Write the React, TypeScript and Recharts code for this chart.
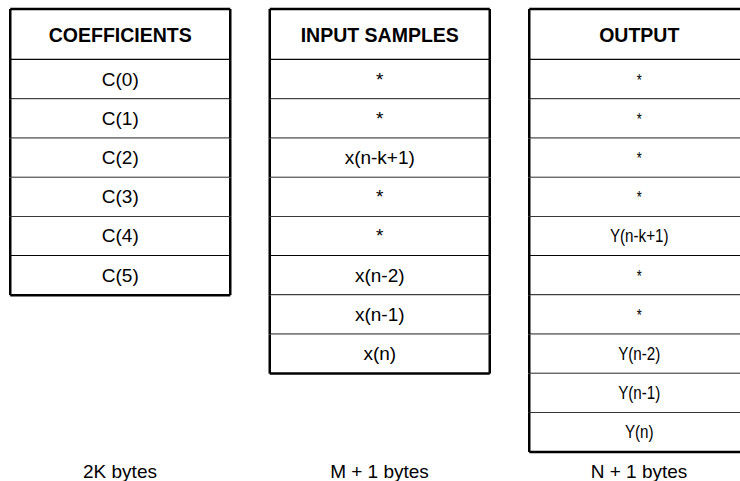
import React from "react";
import { BarChart, Bar, XAxis, YAxis } from "recharts";

// column titles and the size note under each table
const columns = ["COEFFICIENTS", "INPUT SAMPLES", "OUTPUT"];
const sizeLabels = ["2K bytes", "M + 1 bytes", "N + 1 bytes"];

// cell contents, top to bottom
const coefficients = ["C(0)", "C(1)", "C(2)", "C(3)", "C(4)", "C(5)"];
const inputSamples = ["*", "*", "x(n-k+1)", "*", "*", "x(n-2)", "x(n-1)", "x(n)"];
const outputs = ["*", "*", "*", "*", "Y(n-k+1)", "*", "*", "Y(n-2)", "Y(n-1)", "Y(n)"];

const tables = [coefficients, inputSamples, outputs];
const HEADER = 1.3; // header row height, in rows
const MAX_ROWS = 10;
const rowKeys = Array.from({ length: MAX_ROWS }, (_, k) => `r${k}`);

const data = columns.map((title, i) => {
  const row: any = { pos: i, title, size: sizeLabels[i], cells: tables[i], header: HEADER };
  rowKeys.forEach((key, k) => {
    row[key] = k < tables[i].length ? 1 : 0;
  });
  return row;
});

const FONT = "'Liberation Sans', Arial, Helvetica, sans-serif";
const OUTER = 2.5;
const INNER = 1.8;

// reversed y axis hands us negative heights, so normalise first
const box = (props: any) => {
  const h = Math.abs(props.height || 0);
  const top = Math.min(props.y, props.y + (props.height || 0));
  return { x: props.x, y: top, w: props.width, h };
};

const headerShape = (props: any) => {
  const { x, y, w, h } = box(props);
  const payload = props.payload;
  if (h < 0.5 || !payload) return <g />;
  return (
    <g>
      <rect x={x} y={y} width={w} height={h} fill="#fff" />
      <line x1={x} x2={x + w} y1={y} y2={y} stroke="#000" strokeWidth={OUTER} />
      <line x1={x} x2={x + w} y1={y + h} y2={y + h} stroke="#000" strokeWidth={OUTER} />
      <line x1={x} x2={x} y1={y} y2={y + h} stroke="#000" strokeWidth={OUTER} />
      <line x1={x + w} x2={x + w} y1={y} y2={y + h} stroke="#000" strokeWidth={OUTER} />
      <text
        x={x + w / 2}
        y={y + h / 2 + 8}
        textAnchor="middle"
        fontFamily={FONT}
        fontWeight="bold"
        fontSize={19.5}
        fill="#000"
      >
        {payload.title}
      </text>
    </g>
  );
};

const cellShape = (k: number) => (props: any) => {
  const { x, y, w, h } = box(props);
  const payload = props.payload;
  if (h < 0.5 || !payload || k >= payload.cells.length) return <g />;
  const last = k === payload.cells.length - 1;
  const narrow = payload.pos === 2;
  const label = payload.cells[k];
  const cx = x + w / 2;
  const by = y + h / 2 + 6;
  return (
    <g>
      <rect x={x} y={y} width={w} height={h} fill="#fff" />
      <line x1={x} x2={x + w} y1={y + h} y2={y + h} stroke="#000" strokeWidth={last ? OUTER : INNER} />
      <line x1={x} x2={x} y1={y} y2={y + h} stroke="#000" strokeWidth={OUTER} />
      <line x1={x + w} x2={x + w} y1={y} y2={y + h} stroke="#000" strokeWidth={OUTER} />
      {narrow ? (
        <text
          transform={`translate(${cx}, ${by}) scale(0.8, 1)`}
          textAnchor="middle"
          fontFamily={FONT}
          fontSize={label === "*" ? 16 : 19}
          fill="#000"
        >
          {label}
        </text>
      ) : (
        <text x={cx} y={by} textAnchor="middle" fontFamily={FONT} fontSize={19} fill="#000">
          {label}
        </text>
      )}
    </g>
  );
};

function SizeTick(props: any) {
  const { x, y, payload } = props;
  return (
    <text x={x} y={y + 24} textAnchor="middle" fontFamily={FONT} fontSize={19} fill="#000">
      {payload.value}
    </text>
  );
}

export default function App() {
  return (
    <div style={{ position: "absolute", left: 0, top: 0, background: "#fff" }}>
      <BarChart
        width={740}
        height={481}
        data={data}
        margin={{ top: 9, right: -28.75, left: -9.75, bottom: 0 }}
        barSize={220}
      >
        <XAxis
          dataKey="size"
          height={29}
          axisLine={false}
          tickLine={false}
          tickSize={0}
          interval={0}
          tick={<SizeTick />}
        />
        <YAxis type="number" domain={[0, HEADER + MAX_ROWS]} reversed hide width={0} />
        <Bar dataKey="header" stackId="t" shape={headerShape} isAnimationActive={false} />
        {rowKeys.map((key, k) => (
          <Bar key={key} dataKey={key} stackId="t" shape={cellShape(k)} isAnimationActive={false} />
        ))}
      </BarChart>
    </div>
  );
}
